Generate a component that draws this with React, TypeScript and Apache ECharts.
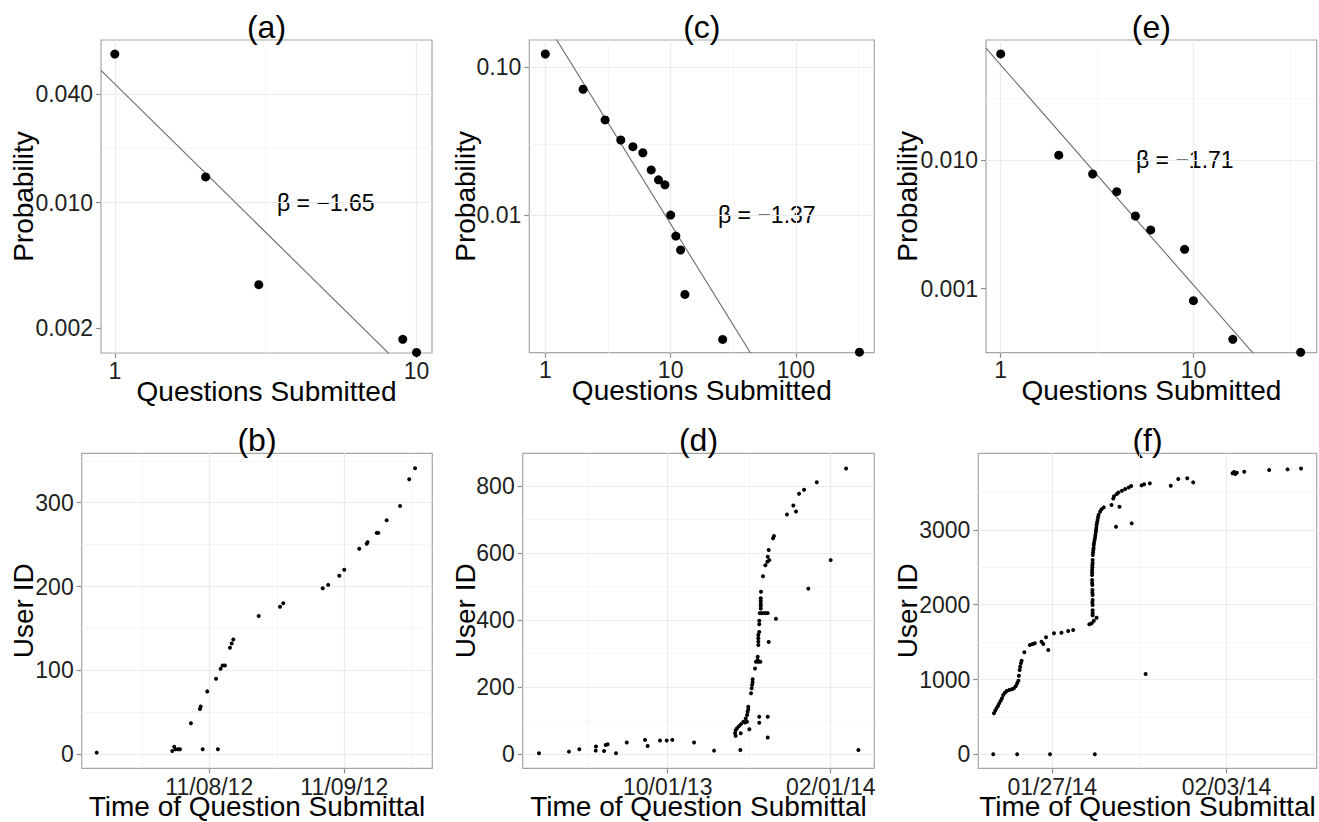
import React, { useEffect, useRef } from "react";
import * as echarts from "echarts";

const FONT = '"Liberation Sans", Arial, Helvetica, sans-serif';

// ---------- Panel (a) ----------
const aQuestions = [1, 2, 3, 9, 10];
const aProb = [0.067, 0.0139, 0.0035, 0.00174, 0.00147];
const aBeta = -1.65;
const aIntercept = 0.0457;
const aXTicks = [1, 10];
const aXTickLabels = ["1", "10"];
const aXMinor = [3.162];
const aYTicks = [0.002, 0.01, 0.04];
const aYTickLabels = ["0.002", "0.010", "0.040"];
const aYMinor = [0.00447, 0.02];

// ---------- Panel (c) ----------
const cQuestions = [1, 2, 3, 4, 5, 6, 7, 8, 9, 10, 11, 12, 13, 26, 321];
const cProb = [0.123, 0.071, 0.044, 0.0322, 0.029, 0.0264, 0.0202, 0.0173, 0.016, 0.01, 0.0072, 0.0058, 0.0029, 0.00144, 0.00118];
const cBeta = -1.37;
const cIntercept = 0.204;
const cXTicks = [1, 10, 100];
const cXTickLabels = ["1", "10", "100"];
const cXMinor = [3.162, 31.62, 316.2];
const cYTicks = [0.01, 0.1];
const cYTickLabels = ["0.01", "0.10"];
const cYMinor = [0.00316, 0.0316];

// ---------- Panel (e) ----------
const eQuestions = [1, 2, 3, 4, 5, 6, 9, 10, 16, 36];
const eProb = [0.0667, 0.0109, 0.00778, 0.00567, 0.00367, 0.00286, 0.00202, 0.000807, 0.000404, 0.00032];
const eBeta = -1.71;
const eIntercept = 0.0547;
const eXTicks = [1, 10];
const eXTickLabels = ["1", "10"];
const eXMinor = [3.162, 31.62];
const eYTicks = [0.001, 0.01];
const eYTickLabels = ["0.001", "0.010"];
const eYMinor = [0.00316, 0.0316];

// ---------- Panel (b): days since 11/08/12 ----------
const bDays = [-0.834, -0.274, -0.26, -0.25, -0.23, -0.217, -0.136, -0.069, -0.064, -0.049, -0.015, 0.05, 0.064, 0.084, 0.099, 0.116, 0.153, 0.166, 0.178, 0.366, 0.524, 0.548, 0.84, 0.881, 0.963, 1.0, 1.111, 1.166, 1.173, 1.24, 1.252, 1.314, 1.413, 1.481, 1.524];
const bUserId = [2, 4, 9, 6, 6, 6, 37, 54, 57, 6, 75, 90, 6, 102, 106, 106, 127, 132, 137, 165, 176, 180, 198, 202, 213, 220, 245, 251, 253, 264, 264, 279, 296, 328, 341];
const bXTicks = [0, 1];
const bXTickLabels = ["11/08/12", "11/09/12"];
const bXMinor = [-0.5, 0.5, 1.5];
const bYTicks = [0, 100, 200, 300];
const bYTickLabels = ["0", "100", "200", "300"];
const bYMinor = [50, 150, 250, 350];

// ---------- Panel (d): days since 10/01/13 ----------
const dDays = [-97.1, -74.5, -66.7, -54.3, -54.1, -48, -46.8, -45.3, -39, -30.9, -17.1, -15.1, -5.8, -0.75, 3.5, 19.9, 35,
  50.8, 51.3, 51.3, 52.3, 53.8, 54.8, 55.1, 55.3, 57.1, 58.3, 58.9, 59.8, 59.9, 60.3, 60.8, 60.8, 61.6,
  62.9, 63.4, 63.7, 64.1, 64.1, 65.9, 66.6, 67.9, 67.9, 68.4, 69.9,
  68.4, 68.4, 68.4, 68.4, 69.1, 69.1, 69.1, 69.1, 69.1,
  69.4, 70.9, 72.5, 74, 75.5,
  70.2, 70.2, 70.2, 70.2, 70.2, 70.4, 71.9, 73.7, 75.2, 75.5, 76.7, 76.2, 76.2, 75.5, 75.5,
  79.5, 80.2, 81.7, 90, 94.8, 96.8, 99.1, 102.9, 106.1, 112.5, 123, 134.6, 143.9];
const dUserId = [3, 8, 15, 11, 23, 10, 28, 30, 3, 35, 43, 25, 41, 41, 43, 35, 11,
  63, 55, 72, 78, 84, 13, 63, 90, 97, 95, 107, 97, 117, 127, 134, 142, 75,
  182, 197, 207, 215, 224, 256, 276, 281, 291, 276, 276,
  326, 336, 346, 356, 365, 388, 398, 112, 94,
  421, 421, 421, 421, 421,
  435, 443, 450, 458, 465, 485, 531, 564, 574, 589, 579, 609, 335, 112, 50,
  644, 651, 404, 715, 742, 724, 777, 789, 494, 811, 579, 852, 13];
const dXTicks = [0, 123];
const dXTickLabels = ["10/01/13", "02/01/14"];
const dXMinor = [-61, 61.5];
const dYTicks = [0, 200, 400, 600, 800];
const dYTickLabels = ["0", "200", "400", "600", "800"];
const dYMinor = [100, 300, 500, 700];

// ---------- Panel (f): days since 01/27/14 ----------
const fDays = [-2.37, -1.41, -0.09, 1.71,
  -2.34, -2.29, -2.24, -2.18, -2.13, -2.07, -2.02, -1.97, -1.9, -1.83, -1.73, -1.62, -1.54, -1.46, -1.41, -1.36, -1.34, -1.31, -1.29, -1.26, -1.23, -1.12, -0.9, -0.79, -0.7, -0.43, -0.36, -0.16, -0.25, 0.07, 0.37, 0.64, 0.84,
  1.49, 1.58, 1.67, 1.78,
  1.62, 1.62, 1.62, 1.62, 1.62, 1.61, 1.61, 1.6, 1.6, 1.6, 1.61, 1.62, 1.63, 1.65, 1.67, 1.7, 1.73, 1.76, 1.78, 1.82, 1.86, 1.92, 1.98, 2.07,
  1.62, 1.61, 1.61, 1.6, 1.6, 1.61, 1.62, 1.64, 1.66, 1.68, 1.72, 1.75, 1.77, 1.8, 1.84,
  2.38, 2.45, 2.48, 2.59, 2.66, 2.8, 2.93, 3.07, 3.17, 2.56, 2.7, 3.19, 3.59, 3.69, 3.92, 3.75, 4.76, 5.06, 5.42, 5.66, 7.24, 7.3, 7.35, 7.41, 7.71, 8.71, 9.45, 9.99];
const fUserId = [0, 0, 0, 0,
  548, 583, 615, 646, 682, 717, 749, 793, 824, 846, 860, 869, 882, 913, 949, 984, 1050, 1127, 1171, 1216, 1251, 1364, 1461, 1475, 1484, 1505, 1475, 1394, 1564, 1618, 1626, 1649, 1662,
  1738, 1751, 1786, 1827,
  1859, 1925, 1996, 2063, 2130, 2197, 2263, 2330, 2397, 2464, 2531, 2598, 2665, 2731, 2798, 2865, 2932, 2999, 3066, 3133, 3200, 3244, 3276, 3302,
  1890, 2030, 2160, 2290, 2430, 2500, 2560, 2700, 2760, 2830, 2900, 2970, 3030, 3100, 3170,
  3333, 3420, 3450, 3480, 3500, 3524, 3547, 3569, 3587, 3043, 3310, 3088, 3596, 3610, 3623, 1073, 3591, 3681, 3690, 3636, 3757, 3774, 3747, 3765, 3778, 3801, 3810, 3823];
const fXTicks = [0, 7];
const fXTickLabels = ["01/27/14", "02/03/14"];
const fXMinor = [3.5, 10.5];
const fYTicks = [0, 1000, 2000, 3000];
const fYTickLabels = ["0", "1000", "2000", "3000"];
const fYMinor = [500, 1500, 2500, 3500];

type Panel = {
  title: string;
  box: { left: number; top: number; width: number; height: number };
  log: boolean;
  xRange: [number, number];
  yRange: [number, number];
  x: number[];
  y: number[];
  xTicks: number[];
  xLabels: string[];
  xMinor: number[];
  yTicks: number[];
  yLabels: string[];
  yMinor: number[];
  size: number;
  fit?: { beta: number; c: number };
  annot?: { x: number; y: number };
  xName: string;
  yName: string;
  yNameX: number;
};

const panels: Panel[] = [
  {
    title: "(a)", box: { left: 101, top: 40, width: 331, height: 313 }, log: true,
    xRange: [0.9, 11.25], yRange: [0.00146, 0.0802], x: aQuestions, y: aProb,
    xTicks: aXTicks, xLabels: aXTickLabels, xMinor: aXMinor, yTicks: aYTicks, yLabels: aYTickLabels, yMinor: aYMinor,
    size: 9, fit: { beta: aBeta, c: aIntercept }, annot: { x: 277, y: 203 },
    xName: "Questions Submitted", yName: "Probability", yNameX: 23,
  },
  {
    title: "(c)", box: { left: 529.3, top: 40, width: 345, height: 312.7 }, log: true,
    xRange: [0.745, 421.7], yRange: [0.00117, 0.153], x: cQuestions, y: cProb,
    xTicks: cXTicks, xLabels: cXTickLabels, xMinor: cXMinor, yTicks: cYTicks, yLabels: cYTickLabels, yMinor: cYMinor,
    size: 9, fit: { beta: cBeta, c: cIntercept }, annot: { x: 718, y: 215 },
    xName: "Questions Submitted", yName: "Probability", yNameX: 465,
  },
  {
    title: "(e)", box: { left: 986, top: 40, width: 330.7, height: 312.7 }, log: true,
    xRange: [0.839, 43.6], yRange: [0.000318, 0.0855], x: eQuestions, y: eProb,
    xTicks: eXTicks, xLabels: eXTickLabels, xMinor: eXMinor, yTicks: eYTicks, yLabels: eYTickLabels, yMinor: eYMinor,
    size: 9, fit: { beta: eBeta, c: eIntercept }, annot: { x: 1136, y: 160 },
    xName: "Questions Submitted", yName: "Probability", yNameX: 907,
  },
  {
    title: "(b)", box: { left: 81.7, top: 453.3, width: 350.6, height: 315 }, log: false,
    xRange: [-0.945, 1.652], yRange: [-16.7, 358.9], x: bDays, y: bUserId,
    xTicks: bXTicks, xLabels: bXTickLabels, xMinor: bXMinor, yTicks: bYTicks, yLabels: bYTickLabels, yMinor: bYMinor,
    size: 4, xName: "Time of Question Submittal", yName: "User ID", yNameX: 23,
  },
  {
    title: "(d)", box: { left: 522.7, top: 453.3, width: 351.6, height: 315 }, log: false,
    xRange: [-109.4, 155.9], yRange: [-41.7, 897.5], x: dDays, y: dUserId,
    xTicks: dXTicks, xLabels: dXTickLabels, xMinor: dXMinor, yTicks: dYTicks, yLabels: dYTickLabels, yMinor: dYMinor,
    size: 4, xName: "Time of Question Submittal", yName: "User ID", yNameX: 465,
  },
  {
    title: "(f)", box: { left: 978.3, top: 453.3, width: 338.4, height: 315 }, log: false,
    xRange: [-2.97, 10.62], yRange: [-187, 4025], x: fDays, y: fUserId,
    xTicks: fXTicks, xLabels: fXTickLabels, xMinor: fXMinor, yTicks: fYTicks, yLabels: fYTickLabels, yMinor: fYMinor,
    size: 4, xName: "Time of Question Submittal", yName: "User ID", yNameX: 907,
  },
];

const labelFor = (ticks: number[], labels: string[]) => (v: number) => {
  let best = 0;
  let bd = Infinity;
  ticks.forEach((t, i) => {
    const d = Math.abs(v - t);
    if (d < bd) { bd = d; best = i; }
  });
  return labels[best];
};

const MAJOR = { color: "#ebebeb", width: 1.2, type: "solid" };
const MINOR = { color: "#f4f4f4", width: 0.8, type: "solid" };

function buildOption() {
  const grid = panels.map((p) => ({
    left: p.box.left, top: p.box.top, width: p.box.width, height: p.box.height,
    show: true, borderColor: "#a6a6a6", borderWidth: 1.2, backgroundColor: "#ffffff",
    containLabel: false, outerBoundsMode: "none",
  }));
  const axisCommon = (p: Panel, ticks: number[], labels: string[], range: [number, number], i: number, isX: boolean) => ({
    gridIndex: i,
    type: p.log ? "log" : "value",
    logBase: 10,
    min: range[0],
    max: range[1],
    axisLine: { show: false, onZero: false },
    splitLine: { show: false },
    minorSplitLine: { show: false },
    axisTick: { show: true, customValues: ticks, length: 5, lineStyle: { color: "#8c8c8c", width: 1.2 } },
    axisLabel: {
      customValues: ticks,
      formatter: labelFor(ticks, labels),
      fontSize: 23, color: "#1e1e1e", fontFamily: FONT,
      margin: isX ? (p.log ? 6 : 7) : 8,
    },
  });
  const xAxis = panels.map((p, i) => axisCommon(p, p.xTicks, p.xLabels, p.xRange, i, true));
  const yAxis = panels.map((p, i) => axisCommon(p, p.yTicks, p.yLabels, p.yRange, i, false));

  const series: any[] = [];
  panels.forEach((p, i) => {
    const gridLines = [
      ...p.xMinor.map((v) => ({ xAxis: v, lineStyle: MINOR })),
      ...p.yMinor.map((v) => ({ yAxis: v, lineStyle: MINOR })),
      ...p.xTicks.map((v) => ({ xAxis: v, lineStyle: MAJOR })),
      ...p.yTicks.map((v) => ({ yAxis: v, lineStyle: MAJOR })),
    ];
    series.push({
      type: "scatter",
      xAxisIndex: i,
      yAxisIndex: i,
      data: p.x.map((v, j) => [v, p.y[j]]),
      symbol: "circle",
      symbolSize: p.size,
      itemStyle: { color: "#000000", opacity: 1 },
      silent: true,
      z: 3,
      markLine: {
        silent: true,
        symbol: ["none", "none"],
        z: 1,
        label: { show: false },
        emphasis: { disabled: true },
        animation: false,
        data: gridLines,
      },
    });
    if (p.fit) {
      const f = p.fit;
      const x0 = p.xRange[0];
      const x1 = p.xRange[1];
      series.push({
        type: "line",
        xAxisIndex: i,
        yAxisIndex: i,
        data: [[x0, f.c * Math.pow(x0, f.beta)], [x1, f.c * Math.pow(x1, f.beta)]],
        showSymbol: false,
        symbol: "none",
        clip: true,
        silent: true,
        lineStyle: { color: "#6a6a6a", width: 1.1 },
        z: 2,
      });
    }
  });

  const graphic: any[] = [];
  panels.forEach((p) => {
    const cx = p.box.left + p.box.width / 2;
    const top = p.box.top;
    const bottom = p.box.top + p.box.height;
    graphic.push({
      type: "text", x: cx, y: top - 13.5, silent: true,
      style: { text: p.title, font: `32px ${FONT}`, fill: "#000", align: "center", verticalAlign: "middle" },
    });
    graphic.push({
      type: "text", x: cx, y: bottom + 38, silent: true,
      style: { text: p.xName, font: `28px ${FONT}`, fill: "#000", align: "center", verticalAlign: "middle" },
    });
    graphic.push({
      type: "text", x: p.yNameX, y: top + p.box.height / 2, rotation: Math.PI / 2, silent: true,
      style: { text: p.yName, font: `28px ${FONT}`, fill: "#000", align: "center", verticalAlign: "middle" },
    });
    if (p.fit && p.annot) {
      graphic.push({
        type: "text", x: p.annot.x, y: p.annot.y, silent: true,
        style: { text: `β = −${Math.abs(p.fit.beta).toFixed(2)}`, font: `23px ${FONT}`, fill: "#000", align: "left", verticalAlign: "middle" },
      });
    }
  });

  return {
    animation: false,
    backgroundColor: "#ffffff",
    grid,
    xAxis,
    yAxis,
    series,
    graphic,
  };
}

export default function App() {
  const ref = useRef<HTMLDivElement>(null);
  useEffect(() => {
    document.body.style.margin = "0";
    if (!ref.current) return;
    const chart = echarts.init(ref.current, undefined, { renderer: "svg" });
    chart.setOption(buildOption() as any);
    return () => chart.dispose();
  }, []);
  return (
    <div
      ref={ref}
      style={{ position: "absolute", left: 0, top: 0, width: 1319, height: 822, background: "#fff" }}
    />
  );
}
